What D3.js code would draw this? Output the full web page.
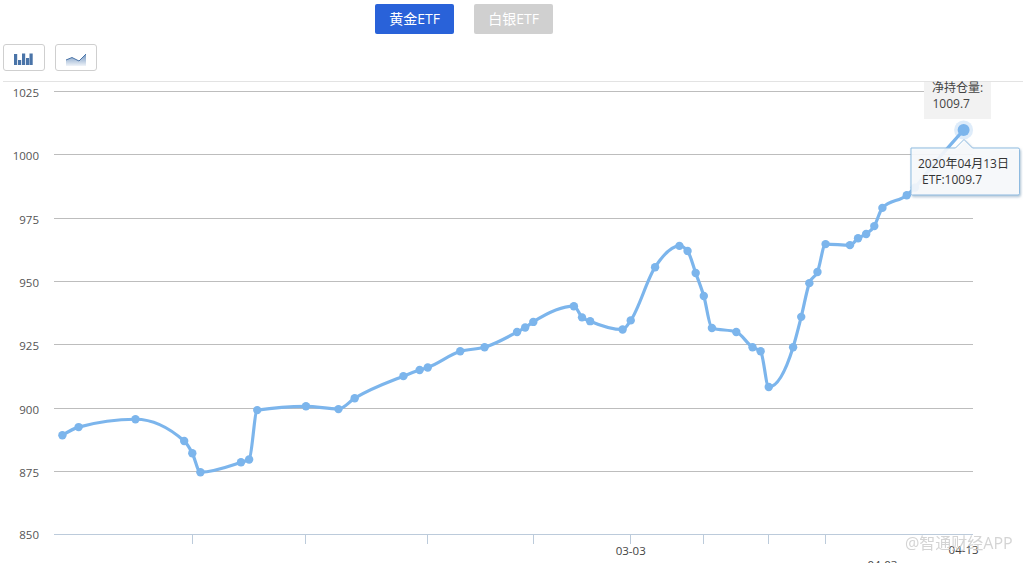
<!DOCTYPE html>
<html><head><meta charset="utf-8">
<script src="https://cdn.jsdelivr.net/npm/d3@7/dist/d3.min.js"></script>
<style>
html,body{margin:0;padding:0;background:#fff;overflow:hidden}
svg{display:block}
text{font-family:"Open Sans","Noto Sans CJK SC",sans-serif}
</style></head><body>
<svg id="c" width="1023" height="563"></svg>
<script>
const dates=["2019-12-24","2019-12-26","2020-01-02","2020-01-08","2020-01-09","2020-01-10","2020-01-15","2020-01-16","2020-01-17","2020-01-23","2020-01-27","2020-01-29","2020-02-04","2020-02-06","2020-02-07","2020-02-11","2020-02-14","2020-02-18","2020-02-19","2020-02-20","2020-02-25","2020-02-26","2020-02-27","2020-03-02","2020-03-03","2020-03-06","2020-03-09","2020-03-10","2020-03-11","2020-03-12","2020-03-13","2020-03-16","2020-03-18","2020-03-19","2020-03-20","2020-03-23","2020-03-24","2020-03-25","2020-03-26","2020-03-27","2020-03-30","2020-03-31","2020-04-01","2020-04-02","2020-04-03","2020-04-06","2020-04-07","2020-04-09","2020-04-13"];
const holdings=[889.3,892.5,895.6,887,882.2,874.7,878.6,879.7,899.2,900.7,899.6,903.9,912.6,915,916,922.4,924,930,931.8,934,940.2,935.8,934.3,931,934.6,955.6,964,962,953.3,944.2,931.6,930,924,922.4,908.3,924,936,949.3,953.7,964.7,964.3,967,968.7,971.8,979,984,987,995,1009.7];
const yTicks=[850,875,900,925,950,975,1000,1025];
const xTickDates=["2020-01-09","2020-01-23","2020-02-07","2020-02-20","2020-03-03","2020-03-12","2020-03-20","2020-03-27"];
const xLabels=[["2020-03-03","03-03",555],["2020-04-13","04-13",554],["2020-04-03","04-03",569]];
const buttons=[["黄金ETF",375,"#2962d9"],["白银ETF",474,"#d0d0d0"]];

const svg=d3.select("#c");
const parse=d3.utcParse("%Y-%m-%d");
const x=d3.scaleUtc().domain([parse("2019-12-24"),parse("2020-04-13")]).range([62.4,963.6]);
const y=d3.scaleLinear().domain([850,1025]).range([534.8,91.3]);
const data=dates.map((d,i)=>({d:parse(d),v:holdings[i]}));

const defs=svg.append("defs");
const g1=defs.append("linearGradient").attr("id","ig").attr("x1",0).attr("x2",0).attr("y1",0).attr("y2",1);
g1.append("stop").attr("offset",0).attr("stop-color","#6f93bf");
g1.append("stop").attr("offset",1).attr("stop-color","#f0f4f9");
const sh=defs.append("filter").attr("id","sh").attr("x","-10%").attr("y","-10%").attr("width","120%").attr("height","125%");
sh.append("feDropShadow").attr("dx",1).attr("dy",1.5).attr("stdDeviation",1.2).attr("flood-color","#5f87a8").attr("flood-opacity",.55);

// buttons
buttons.forEach(([t,bx,c])=>{
  svg.append("rect").attr("x",bx).attr("y",4).attr("width",79).attr("height",30).attr("rx",2).attr("fill",c);
  svg.append("text").attr("x",bx+39.5).attr("y",24).attr("text-anchor","middle").attr("font-size",14).attr("fill","#fff").text(t);
});
// toolbar
[3.5,55.5].forEach(bx=>svg.append("rect").attr("x",bx).attr("y",44.5).attr("width",41).attr("height",26).attr("rx",2.5).attr("fill","#fff").attr("stroke","#cfcfcf"));
const iconBars=[[14,54],[18,60],[22,53.5],[26,58],[29.5,53.5]];
iconBars.forEach(([bx,t])=>svg.append("rect").attr("x",bx).attr("y",t).attr("width",3.2).attr("height",65-t).attr("fill","#4a74a8"));
svg.append("path").attr("d","M66 60L72 57.5L79 61L86 54L86 66L66 66Z").attr("fill","url(#ig)");
svg.append("path").attr("d","M66 60L72 57.5L79 61L86 54").attr("fill","none").attr("stroke","#4a74a8").attr("stroke-width",1);
// top line
svg.append("line").attr("x1",3).attr("x2",1023).attr("y1",81.5).attr("y2",81.5).attr("stroke","#e3e3e3");
// grid + y labels
yTicks.forEach(t=>{
  const yy=Math.floor(y(t))+.5;
  svg.append("line").attr("x1",54).attr("x2",973).attr("y1",yy).attr("y2",yy).attr("stroke",t===850?"#bccbdb":"#bdbdbd");
  svg.append("text").attr("x",39).attr("y",y(t)+ (t===850?4:5.5)).attr("text-anchor","end").attr("font-size",11.5).attr("fill","#555").text(t);
});
// x ticks
xTickDates.forEach(d=>{
  const xx=Math.floor(x(parse(d)))+.5;
  svg.append("line").attr("x1",xx).attr("x2",xx).attr("y1",534).attr("y2",544).attr("stroke","#bccbdb");
});
xLabels.forEach(([d,t,yy])=>svg.append("text").attr("x",x(parse(d))).attr("y",yy).attr("text-anchor","middle").attr("font-size",11.5).attr("fill","#444").text(t));
// series
const line=d3.line().x(d=>x(d.d)).y(d=>y(d.v)).curve(d3.curveMonotoneX);
svg.append("path").attr("d",line(data)).attr("fill","none").attr("stroke","#7cb5ec").attr("stroke-width",3.2);
svg.selectAll("circle.p").data(data).join("circle").attr("class","p").attr("cx",d=>x(d.d)).attr("cy",d=>y(d.v)).attr("r",4.2).attr("fill","#7cb5ec");
// highlighted end
const last=data[data.length-1];
svg.append("circle").attr("cx",x(last.d)).attr("cy",y(last.v)).attr("r",9.5).attr("fill","#7cb5ec").attr("opacity",.25);
svg.append("circle").attr("cx",x(last.d)).attr("cy",y(last.v)).attr("r",6).attr("fill","#7cb5ec");
// upper label
svg.append("rect").attr("x",924).attr("y",82).attr("width",67).attr("height",37).attr("fill","#f2f2f2");
svg.append("text").attr("x",932).attr("y",92).attr("font-size",12).attr("fill","#444").text("净持仓量:");
svg.append("text").attr("x",932.5).attr("y",108).attr("font-size",12).attr("fill","#444").text(last.v);
// tooltip
svg.append("path").attr("d","M911 148H955.5L964 139.5L972.5 148H1018a1.5 1.5 0 0 1 1.5 1.5V193.5a1.5 1.5 0 0 1 -1.5 1.5H912.5a1.5 1.5 0 0 1 -1.5 -1.5Z")
  .attr("fill","rgba(253,254,255,.85)").attr("stroke","#8fbbe0").attr("stroke-width",1).attr("filter","url(#sh)");
svg.append("text").attr("x",918).attr("y",168).attr("font-size",12).attr("fill","#333").text("2020年04月13日");
svg.append("text").attr("x",922).attr("y",184).attr("font-size",12).attr("fill","#333").text("ETF:"+last.v);
// watermark
svg.append("text").attr("x",905).attr("y",549).attr("font-size",16).attr("fill","#cdcdcd").attr("opacity",.85).text("@智通财经APP");
</script></body></html>
